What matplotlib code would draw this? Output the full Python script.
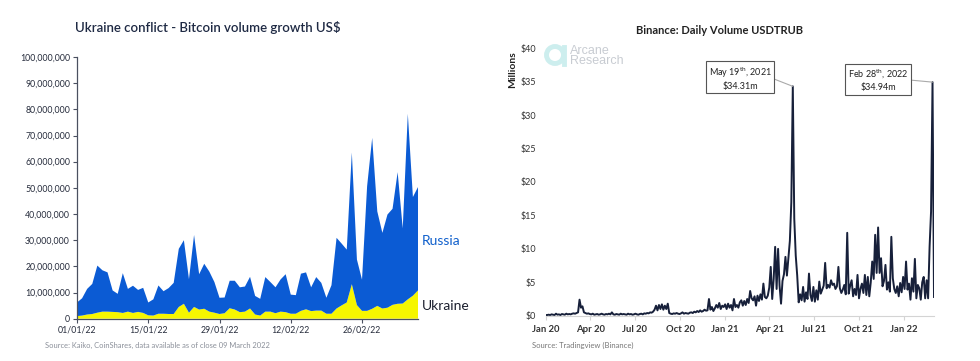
import numpy as np
import pandas as pd
import matplotlib
matplotlib.use('Agg')
import matplotlib.pyplot as plt
import matplotlib.dates as mdates
from matplotlib.ticker import MultipleLocator, FuncFormatter
from matplotlib.patches import Ellipse
from matplotlib.lines import Line2D

plt.rcParams['font.family'] = ['Lato', 'DejaVu Sans']
plt.rcParams['mathtext.fontset'] = 'custom'
plt.rcParams['mathtext.rm'] = 'Lato'

# left panel: daily bitcoin volume, US$ millions, 01/01/22 .. 09/03/22
ukraine_m = [1.0, 1.2, 1.6, 1.8, 2.3, 2.7, 2.7, 2.6, 2.5, 2.2,
             2.7, 2.2, 2.6, 2.2, 1.3, 1.2, 1.9, 1.9, 1.8, 1.8,
             4.5, 5.7, 2.3, 4.5, 3.5, 3.8, 2.7, 2.3, 1.8, 2.1,
             4.0, 3.5, 2.5, 2.7, 3.9, 1.6, 1.2, 2.7, 2.7, 2.1,
             2.7, 2.5, 1.9, 1.9, 3.0, 3.6, 2.9, 3.1, 3.1, 1.9,
             1.9, 3.9, 5.1, 6.2, 13.2, 5.2, 3.0, 3.0, 3.8, 4.9,
             3.9, 4.2, 5.3, 5.7, 5.8, 7.4, 8.8, 10.8]
russia_m = [5.2, 6.6, 9.8, 11.5, 18.0, 15.8, 15.0, 8.2, 7.0, 15.2,
            8.7, 10.4, 8.4, 9.6, 4.9, 6.2, 10.8, 8.6, 9.9, 11.9,
            22.2, 24.3, 12.8, 27.5, 13.5, 17.2, 15.3, 11.7, 6.2, 6.0,
            10.5, 11.0, 9.5, 9.6, 12.1, 7.1, 6.4, 13.2, 11.3, 9.9,
            12.3, 14.5, 7.3, 7.1, 14.2, 14.1, 9.1, 12.8, 10.6, 6.1,
            10.9, 27.0, 23.6, 20.2, 50.3, 17.4, 11.9, 47.6, 65.3, 36.1,
            28.9, 35.6, 36.7, 50.3, 28.7, 70.9, 37.7, 39.5]

# right panel: Binance USDT/RUB volume, $ millions, every 3 days from 01 Jan 2020
usdtrub_m = [
    # Jan - Mar 2020
    0.1, 0.1, 0.15, 0.1, 0.2, 0.15, 0.1, 0.3, 0.15, 0.2, 0.1, 0.25, 0.2, 0.15,
    0.3, 0.2, 0.25, 0.2, 0.3, 0.35, 0.3, 0.4,
    0.5, 2.4, 1.2, 1.4, 0.5, 0.4,
    # Apr - Aug 2020
    0.3, 0.35, 0.25, 0.2, 0.3, 0.15, 0.2, 0.25, 0.15, 0.2,
    0.3, 0.2, 0.15, 0.25, 0.2, 0.3, 0.2, 0.5, 0.2, 0.15,
    0.25, 0.2, 0.15, 0.3, 0.2, 0.25, 0.2, 0.15, 0.3, 0.2,
    0.25, 0.15, 0.2, 0.3, 0.2, 0.15, 0.25, 0.3, 0.2, 0.35,
    0.3, 0.4, 0.35, 0.5, 0.45, 0.6,
    0.9, 1.5, 0.8, 1.6, 1.0, 1.7, 0.9, 1.5, 1.0, 1.8, 0.4,
    # Sep - Dec 2020
    0.3, 0.25, 0.35, 0.3, 0.4, 0.3, 0.25, 0.35, 0.5, 0.3,
    0.4, 0.35, 0.3, 0.45, 0.5, 0.4, 0.6, 0.5, 0.7, 0.55,
    0.8, 0.6, 0.7, 0.9, 0.75, 0.8,
    2.5, 0.9, 1.3, 0.7, 1.1, 1.6, 1.2, 1.9, 1.0, 1.5,
    # Jan - Mar 2021
    1.3, 1.7, 1.0, 1.8, 1.2, 1.6, 0.8, 2.5, 1.3, 1.6,
    1.2, 2.0, 2.3, 1.5, 2.2, 1.6, 2.5, 1.9, 3.7, 2.6,
    2.3, 2.9, 1.5, 3.0, 2.2, 3.2, 2.4, 4.8, 2.8, 2.6,
    # Apr - May 2021
    3.0, 4.2, 7.3, 2.5, 5.5, 10.3, 4.0, 10.0, 4.5, 1.8,
    5.2, 6.2, 8.8, 6.0, 8.7, 11.2, 17.0, 34.31,
    14.5, 9.0, 6.0, 2.0, 3.2,
    # Jun - Sep 2021
    2.3, 4.3, 2.1, 3.5, 2.5, 6.3, 3.1, 2.2, 4.3, 2.1,
    3.8, 2.4, 5.1, 3.3, 3.9, 4.5, 7.9, 4.1, 4.6, 4.2,
    5.3, 4.6, 4.8, 4.0, 4.4, 7.3, 4.1, 3.4, 3.9, 4.6,
    3.2, 12.4, 3.3, 4.5, 5.3, 2.9, 4.0, 3.1, 6.1, 2.6,
    # Oct 2021 - Mar 2022
    4.0, 4.8, 3.4, 6.1, 3.1, 5.8, 2.9, 5.0, 8.1, 5.5,
    12.1, 6.4, 13.2, 6.4, 8.6, 4.4, 5.2, 7.6, 3.9, 5.0,
    3.6, 11.8, 5.6, 4.0, 3.4, 4.4, 2.9, 4.9, 3.5, 5.8,
    4.0, 8.1, 3.9, 4.8, 2.4, 5.6, 3.6, 8.5, 2.6, 4.6,
    4.1, 2.4, 5.0, 5.8, 2.6, 5.3, 2.6, 10.3, 15.6, 34.94,
    2.8,
]

left_dates = pd.date_range('2022-01-01', periods=len(ukraine_m), freq='D')
right_dates = pd.date_range('2020-01-01', periods=len(usdtrub_m), freq='3D')

fig = plt.figure(figsize=(9.8, 3.61), dpi=100)
W, H = 980, 361

def frac(x0, y_top, x1, y_bottom):
    return [x0 / W, 1 - y_bottom / H, (x1 - x0) / W, (y_bottom - y_top) / H]

# ---------------- left panel ----------------
ax1 = fig.add_axes(frac(77, 57, 418, 318.7))
ax1.stackplot(left_dates, np.array(ukraine_m) * 1e6, np.array(russia_m) * 1e6,
              colors=['#f6f600', '#0b5bd4'], linewidth=0)
ax1.set_xlim(left_dates[0], left_dates[-1])
ax1.set_ylim(0, 1e8)
ax1.yaxis.set_major_locator(MultipleLocator(1e7))
ax1.yaxis.set_major_formatter(FuncFormatter(lambda v, p: f'{v:,.0f}'))
ax1.set_xticks(left_dates[::14])
ax1.xaxis.set_major_formatter(mdates.DateFormatter('%d/%m/%y'))
for s in ['top', 'right']:
    ax1.spines[s].set_visible(False)
for s in ['left', 'bottom']:
    ax1.spines[s].set_color('#4a5060')
    ax1.spines[s].set_linewidth(0.9)
ax1.tick_params(axis='both', colors='#4a5060', length=3, width=0.8,
                labelsize=6.3, labelcolor='#262c3c', pad=2)

ax1.text(1.011, 0.297, 'Russia', transform=ax1.transAxes, color='#1060cc',
         fontsize=10, va='center', ha='left')
ax1.text(1.011, 0.047, 'Ukraine', transform=ax1.transAxes, color='#1b1f2e',
         fontsize=10, va='center', ha='left')

fig.text(75 / W, 1 - 28 / H, 'Ukraine conflict - Bitcoin volume growth US$',
         fontsize=9.5, fontweight='semibold', color='#1f2a44', va='center',
         ha='left')
fig.text(45 / W, 1 - 345 / H,
         'Source: Kaiko, CoinShares, data available as of close 09 March 2022',
         fontsize=5.4, color='#8a8f99', va='center', ha='left')

# ---------------- right panel ----------------
ax2 = fig.add_axes(frac(545.7, 48.3, 934, 315.7))
ax2.plot(right_dates, usdtrub_m, color='#17203a', linewidth=1.4)
ax2.set_xlim(right_dates[0], right_dates[-1])
ax2.set_ylim(0, 40)
ax2.yaxis.set_major_locator(MultipleLocator(5))
ax2.yaxis.set_major_formatter(FuncFormatter(lambda v, p: f'${v:.0f}'))
ax2.xaxis.set_major_locator(mdates.MonthLocator(bymonth=[1, 4, 7, 10]))
ax2.xaxis.set_major_formatter(mdates.DateFormatter('%b %y'))
for s in ['top', 'right', 'left']:
    ax2.spines[s].set_visible(False)
ax2.spines['bottom'].set_color('#d4d4d4')
ax2.tick_params(axis='y', length=0, labelsize=6.5, labelcolor='#333333', pad=7)
ax2.tick_params(axis='x', length=3, color='#d4d4d4', labelsize=6.8,
                labelcolor='#333333', pad=4)
for lab in ax2.get_xticklabels():
    lab.set_fontweight('bold')

fig.text(719 / W, 1 - 30 / H, 'Binance: Daily Volume USDTRUB', fontsize=8,
         fontweight='bold', color='#222222', va='center', ha='center')
fig.text(513 / W, 1 - 70 / H, 'Millions', fontsize=7.5, fontweight='bold',
         color='#222222', rotation=90, va='center', ha='center')
fig.text(532 / W, 1 - 345 / H, 'Source: Tradingview (Binance)', fontsize=5.5,
         color='#777777', va='center', ha='left')

# Arcane Research watermark
fig.add_artist(Ellipse((555 / W, 1 - 55 / H), 17 / W, 17 / H, fill=False,
                       edgecolor='#cdeeee', linewidth=3.5))
fig.add_artist(Line2D([564 / W, 564 / W], [1 - 47 / H, 1 - 64 / H],
                      color='#cdeeee', linewidth=3.5))
fig.text(570 / W, 1 - 56 / H, 'Arcane\nResearch', fontsize=9,
         family='Liberation Sans', color='#c8ccd2', va='center', ha='left',
         linespacing=0.85)

# peak call-outs
box = dict(boxstyle='square,pad=0.3', facecolor='white', edgecolor='#555555',
           linewidth=0.8)
line = dict(arrowstyle='-', color='#aaaaaa', linewidth=0.8, shrinkA=0,
            shrinkB=0, relpos=(1, 0.5))
for day, label, dx, dy in [('2021-05-19', 'May 19$^{\\mathrm{th}}$, 2021\n$34.31m', -38, 6),
                           ('2022-02-28', 'Feb 28$^{\\mathrm{th}}$, 2022\n$34.94m', -39, 1.6)]:
    i = right_dates.get_loc(pd.Timestamp(day))
    ax2.annotate(label, xy=(right_dates[i], usdtrub_m[i]), xytext=(dx, dy),
                 textcoords='offset points', ha='center', va='center',
                 fontsize=6.5, color='#222222', bbox=box, arrowprops=line,
                 linespacing=1.3)

fig.savefig('out.png', dpi=100)
